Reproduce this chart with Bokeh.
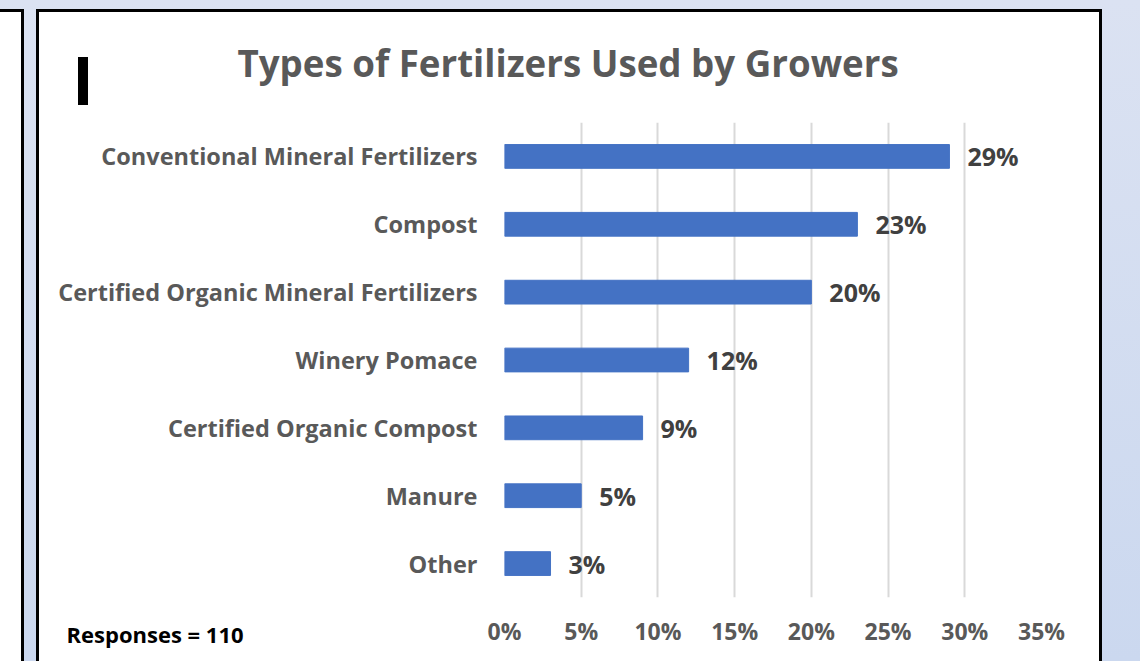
from bokeh.plotting import figure
from bokeh.models import (ColumnDataSource, FactorRange, Range1d, LabelSet, Title,
                          FixedTicker)
from bokeh.core.properties import value
from bokeh.embed import file_html
from bokeh.resources import INLINE

# ---- data ----
categories = [
    "Conventional Mineral Fertilizers",
    "Compost",
    "Certified Organic Mineral Fertilizers",
    "Winery Pomace",
    "Certified Organic Compost",
    "Manure",
    "Other",
]
shares = [29, 23, 20, 12, 9, 5, 3]
share_labels = ["29%", "23%", "20%", "12%", "9%", "5%", "3%"]
tick_values = [0, 5, 10, 15, 20, 25, 30, 35]
tick_labels = ["0%", "5%", "10%", "15%", "20%", "25%", "30%", "35%"]
title_text = "Types of Fertilizers Used by Growers"
responses_text = "Responses = 110"

# ---- page geometry (pixels) ----
W, H = 1140, 661
FL, FR, FT, FB = 504, 1041, 122, 597   # plot frame edges

FONT = "Open Sans"
BAR_BLUE = "#4472C4"
TEXT_GREY = "#595959"
LABEL_GREY = "#404040"
GRID_GREY = "#d9d9d9"


def rect(color, x, y, w, h):
    """one solid CSS background layer"""
    return f"linear-gradient({color},{color}) {x}px {y}px / {w}px {h}px no-repeat"


# slide backdrop: blue page, bordered white panels, black marker
page_background = ", ".join([
    rect("#000000", 78, 57, 10, 48),
    rect("#ffffff", 39, 12, 1060, 700),
    rect("#000000", 36, 9, 1066, 700),
    rect("#ffffff", 0, 12, 21, 700),
    rect("#000000", 0, 9, 24, 700),
    "linear-gradient(180deg, #dbe2f2 0%, #cbd8ef 100%)",
])

source = ColumnDataSource(dict(cat=categories, share=shares, label=share_labels))

p = figure(
    width=W, height=H,
    x_range=Range1d(0, 35),
    y_range=FactorRange(factors=list(reversed(categories))),
    output_backend="svg", toolbar_location=None,
    min_border_left=FL, min_border_right=W - FR,
    min_border_top=FT, min_border_bottom=H - FB,
    styles={"background": page_background},
)
p.border_fill_color = None
p.background_fill_color = "white"
p.outline_line_color = None

# bars
p.hbar(y="cat", left=0, right="share", height=0.35, source=source,
       fill_color=BAR_BLUE, line_color=BAR_BLUE)

# value labels
p.add_layout(LabelSet(x="share", y="cat", text="label", source=source,
                      x_offset=18, y_offset=0, text_baseline="middle",
                      text_font=value(FONT), text_font_size="25px",
                      text_font_style="bold", text_color=LABEL_GREY))

# axes
p.xaxis.ticker = FixedTicker(ticks=tick_values)
p.xaxis.major_label_overrides = dict(zip(tick_values, tick_labels))
p.xaxis.major_label_text_font = FONT
p.xaxis.major_label_text_font_size = "23px"
p.xaxis.major_label_text_font_style = "bold"
p.xaxis.major_label_text_color = TEXT_GREY
p.xaxis.major_label_standoff = 17
p.xaxis.major_tick_out = 0
p.xaxis.major_tick_in = 0
p.xaxis.axis_line_color = None
p.xaxis.major_tick_line_color = None
p.xaxis.minor_tick_line_color = None

p.yaxis.major_label_text_font = FONT
p.yaxis.major_label_text_font_size = "23.5px"
p.yaxis.major_label_text_font_style = "bold"
p.yaxis.major_label_text_color = TEXT_GREY
p.yaxis.major_label_standoff = 27
p.yaxis.major_tick_out = 0
p.yaxis.major_tick_in = 0
p.yaxis.axis_line_color = None
p.yaxis.major_tick_line_color = None
p.yaxis.minor_tick_line_color = None

p.xgrid.ticker = FixedTicker(ticks=tick_values)
p.xgrid.grid_line_color = GRID_GREY
p.xgrid.grid_line_width = 2
p.ygrid.grid_line_color = None

# chart title
p.title.text = title_text
p.title.align = "left"
p.title.offset = 237 - FL
p.title.vertical_align = "middle"
p.title.standoff = 68
p.title.text_font = FONT
p.title.text_font_size = "36.7px"
p.title.text_font_style = "bold"
p.title.text_color = TEXT_GREY

# footnote under the category labels
p.add_layout(Title(text=responses_text, align="left", offset=66 - FL,
                   vertical_align="top", standoff=-62,
                   text_font=FONT, text_font_size="22px", text_font_style="bold",
                   text_color="black"), "below")

open("out.html", "w").write(file_html(p, INLINE))
